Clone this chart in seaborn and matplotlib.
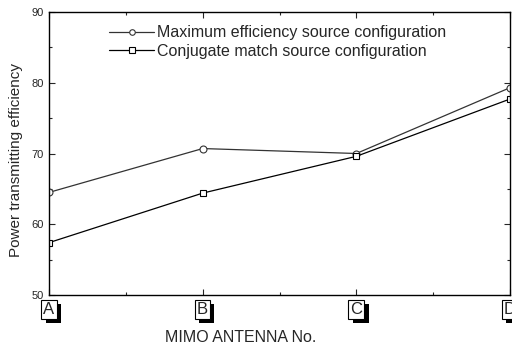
import matplotlib
matplotlib.use("Agg")
import matplotlib.pyplot as plt
import matplotlib.patheffects as pe
from matplotlib.ticker import MultipleLocator
import seaborn as sns
import pandas as pd

antennas = ["A", "B", "C", "D"]
max_eff = [64.5, 70.7, 70.0, 79.3]
conj_eff = [57.4, 64.4, 69.6, 77.7]
series_names = ["Maximum efficiency source configuration", "Conjugate match source configuration"]

sns.set_theme(style="ticks")
plt.rcParams["font.family"] = ["Liberation Sans", "DejaVu Sans"]

fig = plt.figure(figsize=(5.12, 3.47), dpi=100)
ax = fig.add_axes([49/512, 1 - 295/347, 461/512, 283/347])

x = list(range(len(antennas)))
df1 = pd.DataFrame({"x": x, "y": max_eff})
df2 = pd.DataFrame({"x": x, "y": conj_eff})
sns.lineplot(data=df1, x="x", y="y", ax=ax, color="#333333", lw=0.9, marker="o",
             markersize=5, markerfacecolor="white", markeredgecolor="#333333",
             markeredgewidth=0.8, label=series_names[0])
sns.lineplot(data=df2, x="x", y="y", ax=ax, color="black", lw=0.9, marker="s",
             markersize=4.5, markerfacecolor="white", markeredgecolor="black",
             markeredgewidth=0.8, label=series_names[1])

ax.set_xlim(0, 3)
ax.set_ylim(50, 90)
ax.set_xticks(x)
ax.set_xticklabels(antennas)
ax.xaxis.set_minor_locator(MultipleLocator(0.5))
ax.yaxis.set_major_locator(MultipleLocator(10))
ax.yaxis.set_minor_locator(MultipleLocator(5))
ax.tick_params(which="both", direction="in", top=True, right=True, labelsize=8, width=0.8)
ax.tick_params(which="major", length=4)
ax.tick_params(which="minor", length=2.5)
ax.tick_params(axis="x", labelsize=12, pad=5)
for s in ax.spines.values():
    s.set_linewidth(1.0)
    s.set_color("black")

for lab in ax.get_xticklabels():
    lab.set_bbox(dict(boxstyle="square,pad=0.12", fc="white", ec="black", lw=0.8))
    lab.get_bbox_patch().set_path_effects([
        pe.SimplePatchShadow(offset=(3, -3), shadow_rgbFace="black", alpha=1.0),
        pe.Normal()])

ax.set_xlabel("MIMO ANTENNA No.", fontsize=11.5)
ax.xaxis.set_label_coords((241 - 49) / 461, -(337 - 295) / 283, transform=ax.transAxes)
ax.xaxis.label.set_va("center")
ax.set_ylabel("Power transmitting efficiency", fontsize=11)
ax.yaxis.set_label_coords(-(49 - 16) / 461, (295 - 160) / 283, transform=ax.transAxes)
ax.yaxis.label.set_va("center")

leg = ax.legend(loc="upper left", bbox_to_anchor=(0.117, 0.975), frameon=False,
                fontsize=11.5, handlelength=2.8, handletextpad=0.2, labelspacing=0.2,
                borderaxespad=0)
for h in leg.get_lines():
    h.set_markersize(4)

fig.savefig("out.png", dpi=100)
